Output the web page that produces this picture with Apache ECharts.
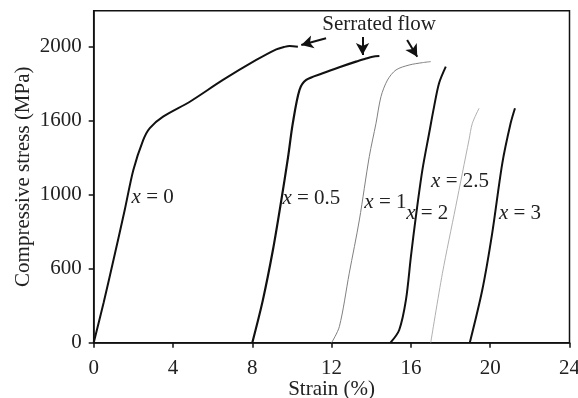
<!DOCTYPE html>
<html><head><meta charset="utf-8">
<script src="https://cdn.jsdelivr.net/npm/echarts@6/dist/echarts.min.js"></script>
<style>html,body{margin:0;padding:0;background:#fff}#c{width:578px;height:398px}</style>
</head><body><div id="c"></div>
<script>
// Data (strain %, stress in axis units)
const strain_x0 = [0, 0.5, 1.0, 1.57, 2.0, 2.5, 2.83, 3.5, 4.85, 6.52, 8.2, 9.21, 9.6, 9.88, 10.3];
const stress_x0 = [0, 270, 560, 900, 1167, 1370, 1450, 1527, 1628, 1775, 1910, 1982, 1998, 2005, 2000];
const strain_x05 = [8.0, 8.53, 9.04, 9.46, 9.8, 10.04, 10.38, 10.72, 11.55, 12.39, 13.23, 13.7, 14.07, 14.41];
const stress_x05 = [0, 286, 626, 960, 1250, 1480, 1707, 1775, 1820, 1861, 1899, 1918, 1932, 1937];
const strain_x1 = [12.0, 12.39, 12.89, 13.40, 13.90, 14.24, 14.49, 14.82, 15.25, 15.91, 16.58, 17.0];
const stress_x1 = [0, 108, 469, 829, 1257, 1482, 1662, 1775, 1843, 1876, 1892, 1899];
const strain_x2 = [14.97, 15.41, 15.75, 16.0, 16.25, 16.58, 16.92, 17.17, 17.42, 17.76];
const stress_x2 = [0, 86, 289, 581, 851, 1167, 1415, 1595, 1753, 1865];
const strain_x25 = [17.0, 17.59, 18.26, 18.93, 19.1, 19.44];
const stress_x25 = [0, 469, 919, 1370, 1482, 1584];
const strain_x3 = [18.97, 19.6, 20.1, 20.61, 21.03, 21.25];
const stress_x3 = [0, 356, 739, 1212, 1482, 1584];

const xTicks = [0, 4, 8, 12, 16, 20, 24];
const yTickPos = [0, 500, 1000, 1500, 2000];
const yTickLabels = ['0', '600', '1000', '1600', '2000'];

const curveNames = ['0', '0.5', '1', '2', '2.5', '3'];
const curveLabelPos = [[1.91, 978], [9.52, 971], [13.65, 944], [15.76, 876], [17.02, 1086], [20.44, 876]];

const arrowLines = [
  [[11.72, 2057], [10.47, 2011]],
  [[13.56, 2066], [13.56, 1944]],
  [[15.81, 2045], [16.32, 1932]]
];
const annotationText = 'Serrated flow';
const annotationPos = [14.4, 2153];

const FONT = 'Liberation Serif';
const FS = 21;
const zip = (a, b) => a.map((v, i) => [v, b[i]]);

const curves = [
  [strain_x0, stress_x0, '#111', 2],
  [strain_x05, stress_x05, '#111', 2.2],
  [strain_x1, stress_x1, '#808080', 1],
  [strain_x2, stress_x2, '#111', 2],
  [strain_x25, stress_x25, '#b0b0b0', 1],
  [strain_x3, stress_x3, '#111', 2]
];

const series = curves.map((c, i) => ({
  type: 'line', data: zip(c[0], c[1]), showSymbol: false, smooth: 0.3,
  lineStyle: { color: c[2], width: c[3] }, silent: true,
  markPoint: {
    symbol: 'circle', symbolSize: 0, silent: true,
    data: [{ coord: curveLabelPos[i] }],
    label: {
      show: true, position: 'right', distance: 0, color: '#222',
      formatter: '{i|x} = ' + curveNames[i],
      fontFamily: FONT, fontSize: FS,
      rich: { i: { fontStyle: 'italic', fontFamily: FONT, fontSize: FS, color: '#222' } }
    }
  }
}));

series.push({
  type: 'line', data: [], silent: true,
  markLine: {
    silent: true, symbol: ['none', 'arrow'], symbolSize: [10, 12],
    lineStyle: { color: '#111', width: 2, type: 'solid' }, label: { show: false },
    data: arrowLines.map(l => [{ coord: l[0] }, { coord: l[1] }])
  },
  markPoint: {
    symbol: 'circle', symbolSize: 0, silent: true,
    data: [{ coord: annotationPos }],
    label: { show: true, position: 'inside', formatter: annotationText, color: '#222', fontFamily: FONT, fontSize: FS }
  }
});

const chart = echarts.init(document.getElementById('c'), null, { renderer: 'canvas' });
chart.setOption({
  animation: false,
  backgroundColor: '#fff',
  grid: { left: 93.7, right: 8.5, top: 10.7, bottom: 55.3, show: true, borderColor: '#111', borderWidth: 1.5,
    backgroundColor: 'transparent', containLabel: false, outerBoundsMode: 'none' },
  xAxis: {
    type: 'value', min: 0, max: 24, interval: 4,
    name: 'Strain (%)', nameLocation: 'middle', nameGap: 36, nameMoveOverlap: false,
    nameTextStyle: { fontFamily: FONT, fontSize: FS, color: '#222' },
    axisLine: { lineStyle: { color: '#111', width: 1.5 } },
    axisTick: { inside: false, length: 5, lineStyle: { color: '#111', width: 1.5 } },
    axisLabel: { fontFamily: FONT, fontSize: FS, color: '#222', margin: 15, showMaxLabel: true },
    splitLine: { show: false }
  },
  yAxis: {
    type: 'value', min: 0, max: 2243,
    name: 'Compressive stress (MPa)', nameLocation: 'middle', nameGap: 60, nameMoveOverlap: false,
    nameTextStyle: { fontFamily: FONT, fontSize: FS, color: '#222' },
    axisLine: { lineStyle: { color: '#111', width: 1.5 } },
    axisTick: { length: 5, customValues: yTickPos, lineStyle: { color: '#111', width: 1.5 } },
    axisLabel: { fontFamily: FONT, fontSize: FS, color: '#222', margin: 12, customValues: yTickPos,
      formatter: v => { const k = yTickPos.indexOf(v); return k >= 0 ? yTickLabels[k] : ''; } },
    splitLine: { show: false }
  },
  series: series
});
</script></body></html>
